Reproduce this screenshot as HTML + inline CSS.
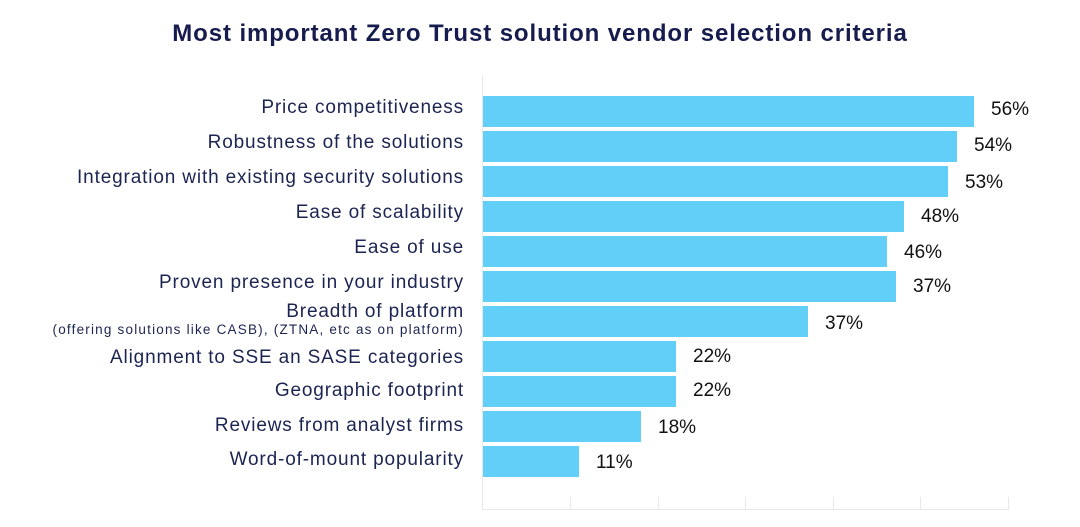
<!DOCTYPE html>
<html><head><style>
body{margin:0;width:1080px;height:527px;background:#fff;font-family:"Liberation Sans",sans-serif;position:relative;overflow:hidden}
.t{position:absolute;top:20px;left:0;width:1080px;text-align:center;font-weight:bold;font-size:24px;letter-spacing:0.9px;color:#161c4e}
.l{position:absolute;right:616px;text-align:right;color:#1c2452;font-size:19px;letter-spacing:0.85px;white-space:nowrap}
.b{position:absolute;left:483px;height:31px;background:#62cff8}
.v{position:absolute;font-size:19px;color:#111}
.g{position:absolute;background:#e8e8e8}
</style></head><body>
<div class="t">Most important Zero Trust solution vendor selection criteria</div>
<div class="g" style="left:482px;top:75px;width:1px;height:435px"></div>
<div class="g" style="left:482px;top:509px;width:527px;height:1px"></div>
<div class="g" style="left:570px;top:497px;width:1px;height:12px"></div>
<div class="g" style="left:658px;top:497px;width:1px;height:12px"></div>
<div class="g" style="left:745px;top:497px;width:1px;height:12px"></div>
<div class="g" style="left:833px;top:497px;width:1px;height:12px"></div>
<div class="g" style="left:920px;top:497px;width:1px;height:12px"></div>
<div class="g" style="left:1008px;top:497px;width:1px;height:12px"></div>

<div class="b" style="top:96px;width:491px"></div><div class="v" style="left:991px;top:99px">56%</div>
<div class="b" style="top:131px;width:474px"></div><div class="v" style="left:974px;top:135px">54%</div>
<div class="b" style="top:166px;width:465px"></div><div class="v" style="left:965px;top:172px">53%</div>
<div class="b" style="top:201px;width:421px"></div><div class="v" style="left:921px;top:206px">48%</div>
<div class="b" style="top:236px;width:404px"></div><div class="v" style="left:904px;top:242px">46%</div>
<div class="b" style="top:271px;width:413px"></div><div class="v" style="left:913px;top:276px">37%</div>
<div class="b" style="top:306px;width:325px"></div><div class="v" style="left:825px;top:313px">37%</div>
<div class="b" style="top:341px;width:193px"></div><div class="v" style="left:693px;top:346px">22%</div>
<div class="b" style="top:376px;width:193px"></div><div class="v" style="left:693px;top:380px">22%</div>
<div class="b" style="top:411px;width:158px"></div><div class="v" style="left:658px;top:417px">18%</div>
<div class="b" style="top:446px;width:96px"></div><div class="v" style="left:596px;top:452px">11%</div>

<div class="l" style="top:97px">Price competitiveness</div>
<div class="l" style="top:132px">Robustness of the solutions</div>
<div class="l" style="top:167px">Integration with existing security solutions</div>
<div class="l" style="top:202px">Ease of scalability</div>
<div class="l" style="top:237px">Ease of use</div>
<div class="l" style="top:272px">Proven presence in your industry</div>
<div class="l" style="top:301px">Breadth of platform</div>
<div class="l" style="top:322px;font-size:13.5px;letter-spacing:1.2px">(offering solutions like CASB), (ZTNA, etc as on platform)</div>
<div class="l" style="top:347px">Alignment to SSE an SASE categories</div>
<div class="l" style="top:380px">Geographic footprint</div>
<div class="l" style="top:415px">Reviews from analyst firms</div>
<div class="l" style="top:449px">Word-of-mount popularity</div>
</body></html>
